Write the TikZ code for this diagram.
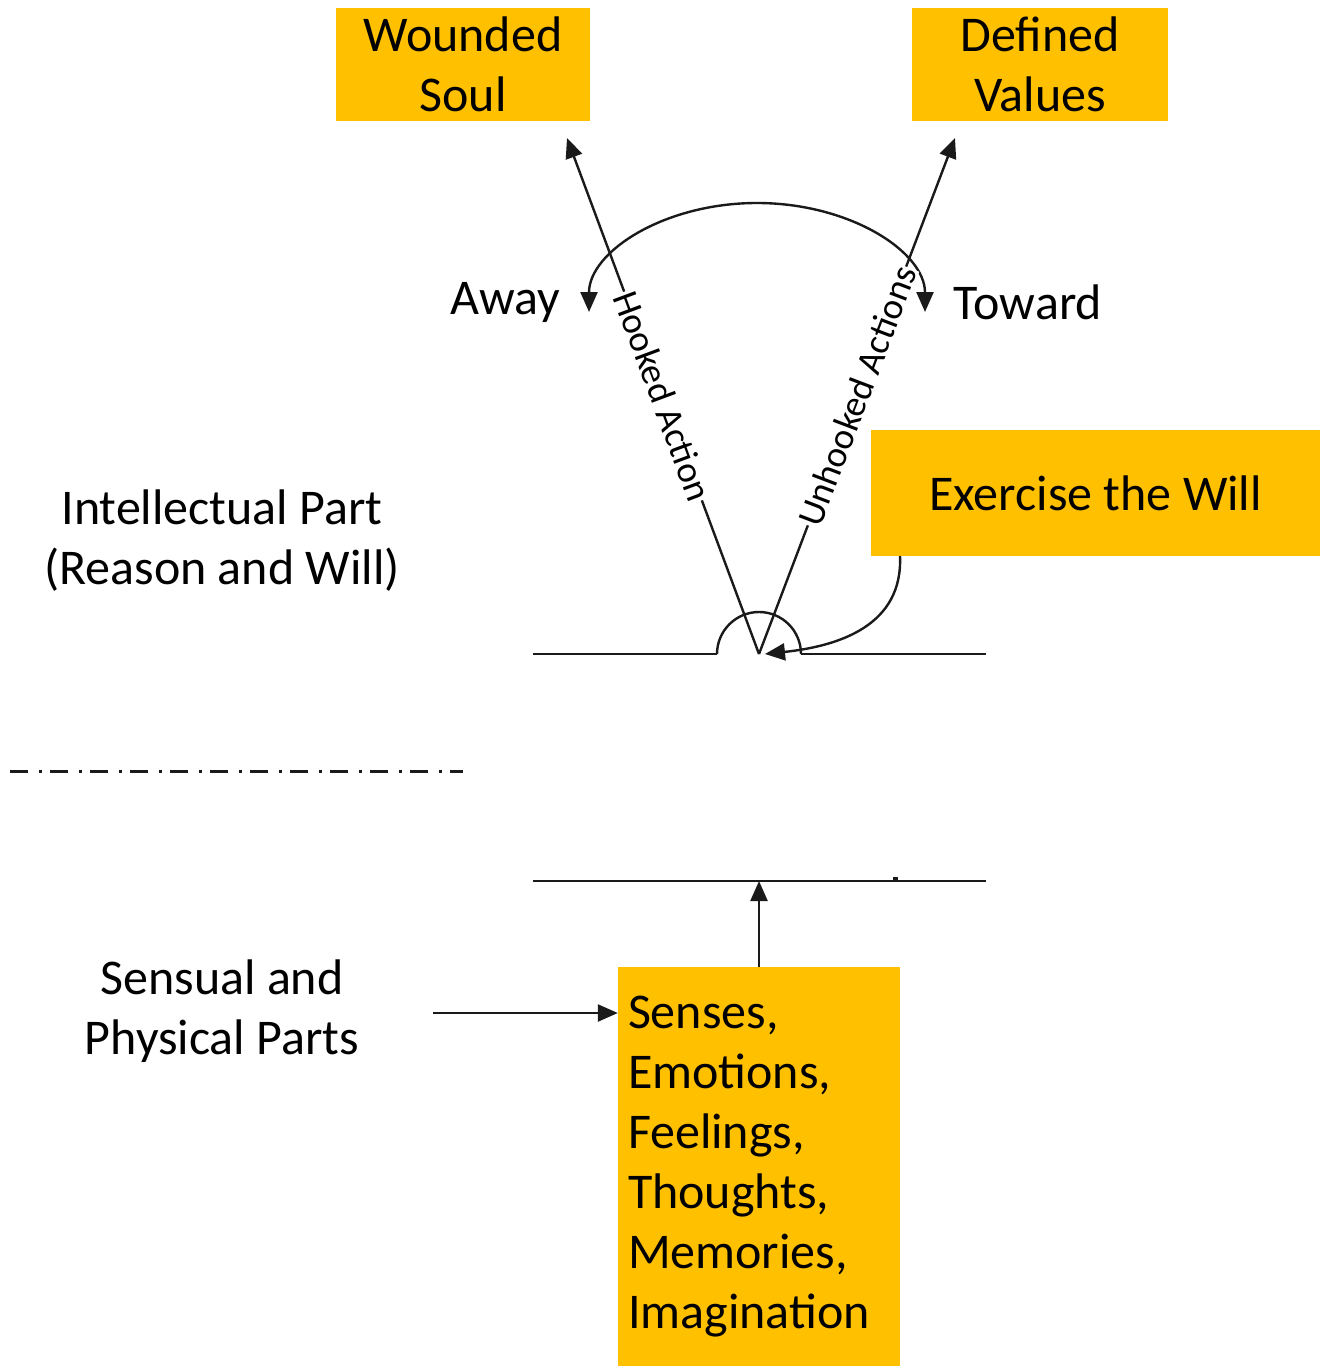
\documentclass[tikz,border=0pt]{standalone}
\usepackage{fontspec}
\setmainfont{Carlito}
\usetikzlibrary{arrows.meta,calc}
\definecolor{gold}{HTML}{FFC000}
\definecolor{ink}{HTML}{1A1A1A}
\newcommand\dgbig{\fontsize{50}{60}\selectfont}
\newcommand\dgrot{\fontsize{37}{44}\selectfont}
\begin{document}
\begin{tikzpicture}[x=1pt,y=-1pt,
  box/.style={fill=gold, inner sep=0pt, align=center, font=\dgbig},
  lbl/.style={align=center, font=\dgbig, inner sep=0pt},
  ln/.style={draw=ink, line width=2.4pt},
  tip/.style={-{Triangle[length=20pt,width=17pt]}},
  rot/.style={font=\dgrot, fill=white, inner sep=1pt, sloped}]
\useasboundingbox (0,0) rectangle (1320,1372);
\fill[white] (0,0) rectangle (1320,1372);

% boxes
\node[box, minimum width=254pt, minimum height=113pt] (wounded) at (463,64.5) {Wounded\\Soul};
\node[box, minimum width=256pt, minimum height=113pt] (defined) at (1040,64.5) {Defined\\Values};
\node[box, minimum width=449pt, minimum height=126pt] (exercise) at (1095.5,493) {Exercise the Will};
\node[box, text width=262pt, inner xsep=10pt, inner ysep=0pt, minimum height=399pt, align=left] (senses) at (759,1166.5)
  {Senses,\\Emotions,\\Feelings,\\Thoughts,\\Memories,\\Imagination};

% labels
\node[lbl] (away) at (505,302) {Away};
\node[lbl] (toward) at (1028,302) {Toward};
\node[lbl] (intel) at (222,541) {Intellectual Part\\(Reason and Will)};
\node[lbl] (sensual) at (222,1011) {Sensual and\\Physical Parts};

% coordinates
\coordinate (O) at (759,654);
\coordinate (wtip) at (567,138);
\coordinate (dtip) at (955,138);
\coordinate (uL) at (533,654);
\coordinate (uR) at (986,654);
\coordinate (sL) at (717,654);
\coordinate (sR) at (801,654);
\coordinate (lL) at (533,881);
\coordinate (lR) at (986,881);
\coordinate (bot) at (759,881);
\coordinate (arcL) at (589,312);
\coordinate (exS) at (900,556);
\coordinate (exE) at (765,654);
\coordinate (sstart) at (433,1013);
\coordinate (dL) at (10,771);
\coordinate (dR) at (463,771);

% upper line with semicircle
\draw[ln] (uL) -- (sL);
\draw[ln] (sL) arc[start angle=180, end angle=360, radius=42];
\draw[ln] (sR) -- (uR);

% away/toward arc
\draw[ln, {Triangle[length=20pt,width=17pt]}-{Triangle[length=20pt,width=17pt]}]
  (arcL) arc[start angle=180, end angle=360, x radius=168, y radius=109];

% action lines
\draw[ln, tip] (O) -- node[rot, pos=0.5] {Hooked Action} (wtip);
\draw[ln, tip] (O) -- node[rot, pos=0.5] {Unhooked Actions} (dtip);

% exercise the will arrow
\draw[ln, tip] (exS) .. controls (903,625) and (840,646) .. (exE);

% lower line
\draw[ln] (lL) -- (lR);
\fill[ink] (893,877) rectangle (898,881);
\draw[ln, tip] (senses.north) -- (bot);
\draw[ln, tip] (sstart) -- (sstart -| senses.west);

% dash-dot separator
\draw[draw=ink, line width=3pt, dash pattern=on 18pt off 11pt on 3pt off 8pt] (dL) -- (dR);
\end{tikzpicture}
\end{document}
